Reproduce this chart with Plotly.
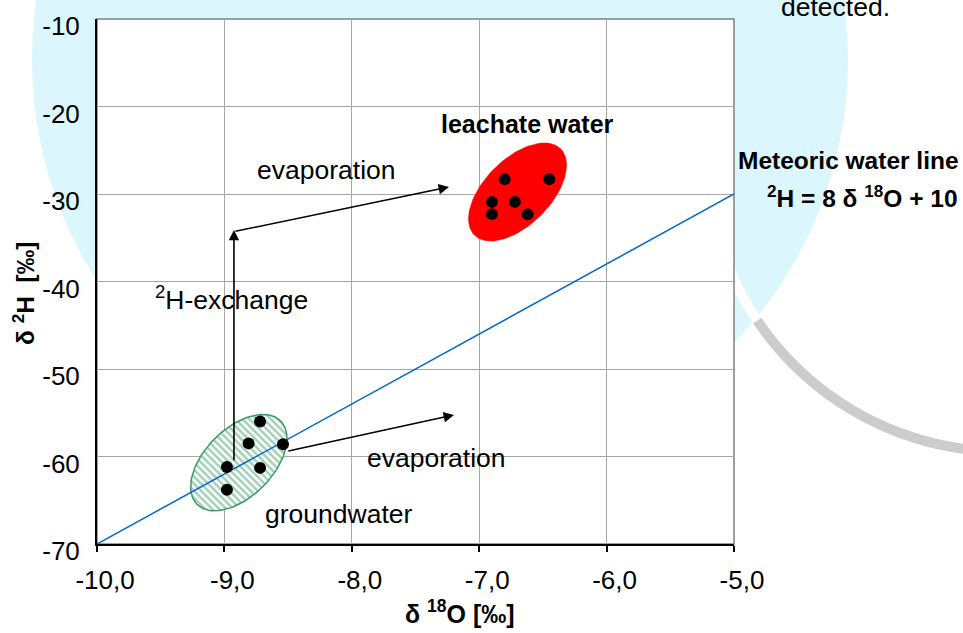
import numpy as np
import plotly.graph_objects as go

# ---------------- data ----------------
gw_x = [-8.72, -8.81, -8.54, -8.98, -8.72, -8.98]
gw_y = [-56.0, -58.5, -58.6, -61.2, -61.3, -63.8]
lw_x = [-6.80, -6.45, -6.90, -6.72, -6.90, -6.62]
lw_y = [-28.3, -28.3, -30.9, -30.9, -32.3, -32.3]
mwl_x = [-10.0, -5.0]
mwl_y = [-70.0, -30.0]
x_ticks = [-10, -9, -8, -7, -6, -5]
x_ticklabels = ["-10,0", "-9,0", "-8,0", "-7,0", "-6,0", "-5,0"]
y_ticks = [-70, -60, -50, -40, -30, -20, -10]
y_ticklabels = ["-70", "-60", "-50", "-40", "-30", "-20", "-10"]

# ---------------- layout geometry ----------------
W, H = 963, 633
ML, MR, MT, MB = 97, 229, 19, 89
PW, PH = W - ML - MR, H - MT - MB
XR = [-10, -5]
YR = [-70, -10]
PXX = PW / (XR[1] - XR[0])
PXY = PH / (YR[1] - YR[0])
FONT = "Liberation Sans, Arial, sans-serif"


def pxp(px):  # pixel x -> paper
    return (px - ML) / PW


def pyp(py):  # pixel y -> paper
    return (MT + PH - py) / PH


def ellipse(cx, cy, a, b, ang_deg, n=120):
    t = np.linspace(0, 2 * np.pi, n)
    th = np.radians(ang_deg)
    dx = a * np.cos(th) * np.cos(t) - b * np.sin(th) * np.sin(t)
    dy = a * np.sin(th) * np.cos(t) + b * np.cos(th) * np.sin(t)
    return cx + dx / PXX, cy + dy / PXY


fig = go.Figure()

# groundwater ellipse (hatched)
ex, ey = ellipse(-8.887, -60.7, 59, 34, 45)
fig.add_trace(go.Scatter(x=ex, y=ey, mode="lines", fill="toself",
                         line=dict(color="#3A9A66", width=1.5),
                         fillcolor="white",
                         fillpattern=dict(shape="\\", fgcolor="#45A070", bgcolor="white",
                                          size=5, solidity=0.5),
                         hoverinfo="skip", showlegend=False))
# leachate ellipse (red)
ex, ey = ellipse(-6.699, -29.77, 61, 33, 45)
fig.add_trace(go.Scatter(x=ex, y=ey, mode="lines", fill="toself",
                         line=dict(color="#FF0000", width=0.5), fillcolor="#FF0000",
                         hoverinfo="skip", showlegend=False))
# meteoric water line
fig.add_trace(go.Scatter(x=mwl_x, y=mwl_y, mode="lines",
                         line=dict(color="#0066CC", width=1.5), showlegend=False))
# points
fig.add_trace(go.Scatter(x=gw_x, y=gw_y, mode="markers",
                         marker=dict(color="black", size=12), showlegend=False))
fig.add_trace(go.Scatter(x=lw_x, y=lw_y, mode="markers",
                         marker=dict(color="black", size=12), showlegend=False))

# ---------------- background decoration ----------------
shapes = []
cxp, cyp, R = 440, 60, 408
shapes.append(dict(type="circle", xref="paper", yref="paper", layer="below",
                   x0=pxp(cxp - R), x1=pxp(cxp + R), y0=pyp(cyp + R), y1=pyp(cyp - R),
                   fillcolor="#DBF6FC", line=dict(width=0)))


def arc_path(cx, cy, r, a0, a1, n=60):
    ang = np.radians(np.linspace(a0, a1, n))
    pts = [(pxp(cx + r * np.cos(a)), pyp(cy + r * np.sin(a))) for a in ang]
    return "M " + " L ".join(f"{x:.5f},{y:.5f}" for x, y in pts)


shapes.append(dict(type="path", xref="paper", yref="paper", layer="below",
                   path=arc_path(1003.5, 154.5, 297, 146, 168),
                   line=dict(color="white", width=10)))
shapes.append(dict(type="path", xref="paper", yref="paper", layer="below",
                   path=arc_path(1003.5, 154.5, 297, 90, 146),
                   line=dict(color="#CCCCCC", width=10)))
# plot area
shapes.append(dict(type="rect", xref="paper", yref="paper", layer="below",
                   x0=0, x1=1, y0=0, y1=1, fillcolor="white",
                   line=dict(color="#808080", width=1.5)))

# ---------------- annotations ----------------
ann = []
arrows = [
    # (head_x, head_y, tail_x, tail_y)
    (-8.925, -34.1, -8.925, -60.6),
    (-7.237, -29.2, -8.925, -34.3),
    (-7.198, -55.25, -8.51, -59.4),
]
for hx, hy, tx, ty in arrows:
    ann.append(dict(x=hx, y=hy, ax=tx, ay=ty, xref="x", yref="y", axref="x", ayref="y",
                    text="", showarrow=True, arrowhead=2, arrowsize=1.3, arrowwidth=1.6,
                    arrowcolor="black", standoff=0, startstandoff=0))

labels = [
    ("leachate water", -6.621, -22.0, True),
    ("evaporation", -8.195, -27.2, False),
    ("<sup>2</sup>H-exchange", -8.944, -41.9, False),
    ("evaporation", -7.339, -60.2, False),
    ("groundwater", -8.104, -66.6, False),
]
for txt, x, y, bold in labels:
    ann.append(dict(x=x, y=y, xref="x", yref="y", text=f"<b>{txt}</b>" if bold else txt,
                    showarrow=False,
                    font=dict(family=FONT, size=25 if bold else 26.5, color="black"),
                    xanchor="center", yanchor="middle"))

ann.append(dict(x=pxp(961), y=pyp(161), xref="paper", yref="paper",
                text="<b>Meteoric water line</b>", showarrow=False, xanchor="right",
                yanchor="middle", font=dict(family=FONT, size=24.5, color="black")))
ann.append(dict(x=pxp(960), y=pyp(196), xref="paper", yref="paper",
                text="<b><sup>2</sup>H = 8 δ <sup>18</sup>O + 10</b>", showarrow=False,
                xanchor="right", yanchor="middle",
                font=dict(family=FONT, size=24.5, color="black")))
ann.append(dict(x=pxp(835), y=pyp(7), xref="paper", yref="paper",
                text="detected.", showarrow=False, xanchor="center", yanchor="middle",
                font=dict(family=FONT, size=26.5, color="black")))
# axis titles
ann.append(dict(x=pxp(460), y=pyp(612), xref="paper", yref="paper",
                text="<b>δ <sup>18</sup>O [‰]</b>", showarrow=False,
                xanchor="center", yanchor="middle",
                font=dict(family=FONT, size=25, color="black")))
ann.append(dict(x=pxp(23), y=pyp(294), xref="paper", yref="paper",
                text="<b>δ <sup>2</sup>H  [‰]</b>", showarrow=False, textangle=-90,
                xanchor="center", yanchor="middle",
                font=dict(family=FONT, size=24.5, color="black")))

fig.update_layout(
    width=W, height=H,
    margin=dict(l=ML, r=MR, t=MT, b=MB, pad=0),
    paper_bgcolor="white", plot_bgcolor="rgba(0,0,0,0)",
    showlegend=False,
    shapes=shapes, annotations=ann,
    xaxis=dict(range=XR, tickvals=x_ticks, ticktext=x_ticklabels,
               showgrid=True, gridcolor="#A6A6A6", gridwidth=1, zeroline=False,
               showline=True, linecolor="black", linewidth=2,
               ticks="outside", ticklen=6, tickwidth=2, tickcolor="black",
               tickfont=dict(family=FONT, size=26, color="black"),
               ticklabelshift=8, ticklabelstandoff=6, fixedrange=True),
    yaxis=dict(range=YR, tickvals=y_ticks, ticktext=y_ticklabels,
               showgrid=True, gridcolor="#A6A6A6", gridwidth=1, zeroline=False,
               showline=True, linecolor="black", linewidth=2,
               ticks="", ticklabelstandoff=10,
               tickfont=dict(family=FONT, size=26, color="black"),
               ticklabelshift=7, ticklabeloverflow="allow", fixedrange=True),
)

fig.write_html("out.html",
               config={"displayModeBar": False},
               post_script="document.body.style.margin='0px';"
                           "document.body.style.overflow='hidden';")
